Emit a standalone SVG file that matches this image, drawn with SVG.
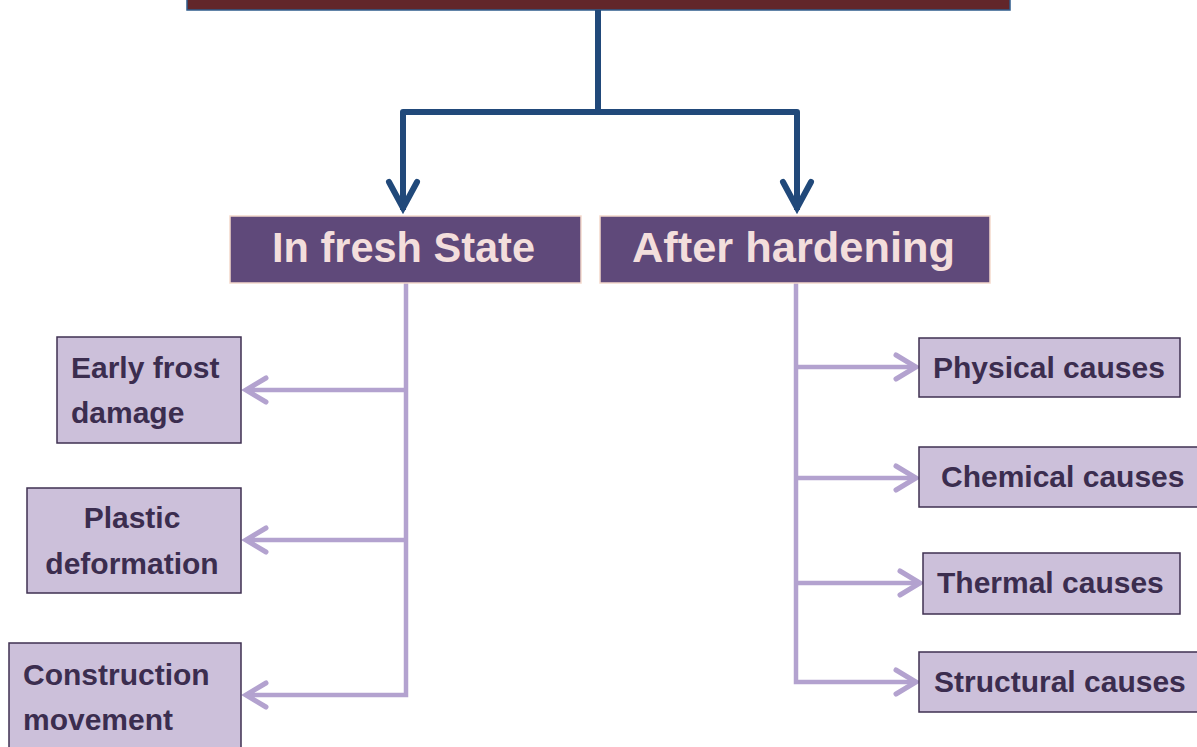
<svg xmlns="http://www.w3.org/2000/svg" width="1197" height="747" viewBox="0 0 1197 747">
  <style>
    .head { fill: #62262a; stroke: #2f5c8c; stroke-width: 1.5; }
    .cat { fill: #5f497a; stroke: #f4d9cc; stroke-width: 1.5; }
    .cat-text { font-family: "Liberation Sans", Arial, sans-serif; font-weight: bold; font-size: 42px; fill: #f3dedc; }
    .leaf { fill: #ccc0da; stroke: #3f3151; stroke-width: 1.5; }
    .leaf-text { font-family: "Liberation Sans", Arial, sans-serif; font-weight: bold; font-size: 30px; fill: #3b2d4f; }
    .blue { fill: none; stroke: #21497a; stroke-width: 6; stroke-linejoin: round; }
    .blue-head { fill: none; stroke: #21497a; stroke-width: 6; stroke-linecap: round; stroke-linejoin: miter; }
    .lilac { fill: none; stroke: #b3a2cf; stroke-width: 4.5; }
    .lilac-head { fill: none; stroke: #b3a2cf; stroke-width: 5; stroke-linecap: round; stroke-linejoin: miter; }
  </style>

  <!-- Top heading bar (cut off at the top edge) -->
  <g id="heading">
    <rect class="head" x="187" y="-20" width="823" height="30"/>
  </g>

  <!-- Connectors -->
  <g id="connectors">
    <!-- heading to the two categories -->
    <path class="blue" d="M598,10 V112 M403,210 V112 H797 V210"/>
    <path class="blue-head" d="M389,182 L403,208 L417,182"/>
    <path class="blue-head" d="M783,182 L797,208 L811,182"/>

    <!-- fresh state branches -->
    <path class="lilac" d="M406,283 V695 H247 M406,390 H247 M406,540 H247"/>
    <path class="lilac-head" d="M266,378 L246,390 L266,402"/>
    <path class="lilac-head" d="M266,528 L246,540 L266,552"/>
    <path class="lilac-head" d="M266,683 L246,695 L266,707"/>

    <!-- after hardening branches -->
    <path class="lilac" d="M796,283 V682 H914 M796,367 H914 M796,478 H914 M796,583 H918"/>
    <path class="lilac-head" d="M896,355 L916,367 L896,379"/>
    <path class="lilac-head" d="M896,466 L916,478 L896,490"/>
    <path class="lilac-head" d="M900,571 L920,583 L900,595"/>
    <path class="lilac-head" d="M896,670 L916,682 L896,694"/>
  </g>

  <!-- Categories -->
  <g id="fresh-state">
    <rect class="cat" x="230" y="216" width="351" height="67"/>
    <text class="cat-text" x="272" y="262" textLength="263" lengthAdjust="spacingAndGlyphs">In fresh State</text>
  </g>
  <g id="after-hardening">
    <rect class="cat" x="600" y="216" width="390" height="67"/>
    <text class="cat-text" x="632" y="262" textLength="323" lengthAdjust="spacingAndGlyphs">After hardening</text>
  </g>

  <!-- Fresh state leaves -->
  <g id="early-frost">
    <rect class="leaf" x="57" y="337" width="184" height="106"/>
    <text class="leaf-text" x="71" y="378">Early frost</text>
    <text class="leaf-text" x="71" y="423">damage</text>
  </g>
  <g id="plastic-deformation">
    <rect class="leaf" x="27" y="488" width="214" height="105"/>
    <text class="leaf-text" x="132" y="528" text-anchor="middle">Plastic</text>
    <text class="leaf-text" x="132" y="574" text-anchor="middle">deformation</text>
  </g>
  <g id="construction-movement">
    <rect class="leaf" x="9" y="643" width="232" height="120"/>
    <text class="leaf-text" x="23" y="685">Construction</text>
    <text class="leaf-text" x="23" y="730">movement</text>
  </g>

  <!-- After hardening leaves -->
  <g id="physical">
    <rect class="leaf" x="919" y="338" width="261" height="59"/>
    <text class="leaf-text" x="933" y="378">Physical causes</text>
  </g>
  <g id="chemical">
    <rect class="leaf" x="919" y="447" width="290" height="60"/>
    <text class="leaf-text" x="941" y="487">Chemical causes</text>
  </g>
  <g id="thermal">
    <rect class="leaf" x="923" y="553" width="257" height="61"/>
    <text class="leaf-text" x="937" y="593">Thermal causes</text>
  </g>
  <g id="structural">
    <rect class="leaf" x="919" y="652" width="290" height="60"/>
    <text class="leaf-text" x="934" y="692">Structural causes</text>
  </g>
</svg>
